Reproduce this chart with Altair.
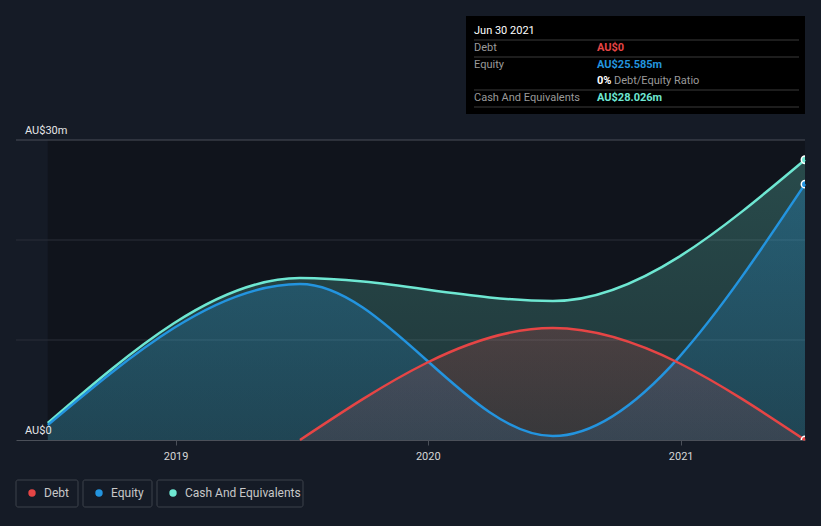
import altair as alt
import pandas as pd

# ---- data ----
dates = ["2018-06-30", "2019-06-30", "2020-06-30", "2021-06-30"]
debt = [None, 0.0, 11.2, 0.0]
equity = [1.5, 15.6, 0.4, 25.585]
cash = [1.7, 16.2, 13.9, 28.026]

series_names = ["Debt", "Equity", "Cash And Equivalents"]
series_colors = ["#e64545", "#2394df", "#6ee7d2"]
series_rgb = [(230, 69, 69), (35, 148, 223), (110, 231, 210)]
area_alpha = [(0.2, 0.12), (0.28, 0.16), (0.26, 0.16)]
grid_minor = [10, 20]
grid_top = [30]
y_label_values = [0, 30]
y_label_texts = ["AU$0", "AU$30m"]
x_years = [2019, 2020, 2021]
domain_start = "2018-05-15"

rows = []
for name, vals in zip(series_names, [debt, equity, cash]):
    for j, (d, v) in enumerate(zip(dates, vals)):
        if v is not None:
            rows.append({"date": d, "series": name, "value": v,
                         "last": 1 if j == len(dates) - 1 else 0})
df = pd.DataFrame(rows)

BG = "#151b26"
PLOT_BG = "#10141c"
W, H = 789, 300

x_scale = alt.Scale(type="utc", domain=[domain_start, dates[-1]])
y_scale = alt.Scale(domain=[0, 30], nice=False)

x_axis = alt.Axis(
    values=[alt.DateTime(year=y, month=1, date=1, utc=True) for y in x_years],
    format="%Y", formatType="utc", title=None, grid=False,
    labelColor="#d6d6d6", labelFontSize=11, labelPadding=5,
    tickColor="#4b5059", tickSize=5, domainColor="#4b5059", domainWidth=1,
)
y_axis = alt.Axis(title=None, grid=False, labels=False, ticks=False, domain=False)

base = alt.Chart(df)

# darker plot band
band_df = pd.DataFrame({"start": [dates[0]], "end": [dates[-1]], "lo": [0], "hi": [30]})
band = alt.Chart(band_df).mark_rect(color=PLOT_BG).encode(
    x=alt.X("start:T", scale=x_scale, axis=x_axis),
    x2="end:T",
    y=alt.Y("lo:Q", scale=y_scale, axis=y_axis),
    y2="hi:Q",
)

layers = [band]

# gridlines through the y scale
for vals, col in [(grid_minor, "#2a2f38"), (grid_top, "#4a4f58")]:
    layers.append(
        alt.Chart(pd.DataFrame({"g": vals})).mark_rule(color=col, strokeWidth=1).encode(
            y=alt.Y("g:Q", scale=y_scale), x=alt.value(0), x2=alt.value(W)
        )
    )

def grad(rgb, top, bottom):
    r, g, b = rgb
    return alt.Gradient(
        gradient="linear",
        stops=[
            alt.GradientStop(color=f"rgba({r},{g},{b},{top})", offset=0),
            alt.GradientStop(color=f"rgba({r},{g},{b},{bottom})", offset=1),
        ],
        x1=1, x2=1, y1=0, y2=1,
    )

area_order = [2, 1, 0]
for i in area_order:
    layers.append(
        base.transform_filter(alt.datum.series == series_names[i]).mark_area(
            interpolate="monotone", color=grad(series_rgb[i], *area_alpha[i])
        ).encode(
            x=alt.X("date:T", scale=x_scale),
            y=alt.Y("value:Q", scale=y_scale),
        )
    )

for i in area_order:
    layers.append(
        base.transform_filter(alt.datum.series == series_names[i]).mark_line(
            interpolate="monotone", color=series_colors[i], strokeWidth=2.5
        ).encode(
            x=alt.X("date:T", scale=x_scale),
            y=alt.Y("value:Q", scale=y_scale),
        )
    )

for i in area_order:
    layers.append(
        base.transform_filter(
            (alt.datum.series == series_names[i]) & (alt.datum.last == 1)
        ).mark_circle(
            fill=series_colors[i], stroke="#ffffff", strokeWidth=1.5,
            opacity=1, size=55, clip=True
        ).encode(
            x=alt.X("date:T", scale=x_scale),
            y=alt.Y("value:Q", scale=y_scale),
        )
    )

# y labels drawn on top of the areas, placed through the y scale
ylab_df = pd.DataFrame({"v": y_label_values, "t": y_label_texts})
layers.append(
    alt.Chart(ylab_df).mark_text(
        align="left", baseline="bottom", dy=-4, color="#e6e6e6", fontSize=11
    ).encode(
        x=alt.value(9),
        y=alt.Y("v:Q", scale=y_scale),
        text="t:N",
    )
)

# ---- tooltip box (decoration) ----
one = pd.DataFrame({"k": [0]})
ox, oy = 16, 140  # plot origin in page pixels

def px(x):
    return alt.value(x - ox)

def py(y):
    return alt.value(y - oy)

layers.append(alt.Chart(one).mark_rect(color="#000000").encode(
    x=px(466), x2=px(805), y=py(16), y2=py(114)))
for ly in [40, 57, 90, 107]:
    layers.append(alt.Chart(one).mark_rule(color="#3a3a3a", strokeWidth=1).encode(
        x=px(474), x2=px(799), y=py(ly)))

def txt(s, x, y, color, size=11, weight="normal"):
    return alt.Chart(one).mark_text(
        text=s, align="left", baseline="middle", color=color,
        fontSize=size, fontWeight=weight
    ).encode(x=px(x), y=py(y))

layers.append(txt("Jun 30 2021", 474, 31, "#ffffff", 11, "normal"))
layers.append(txt("Debt", 474, 48, "#9a9a9a"))
layers.append(txt("Equity", 474, 65, "#9a9a9a"))
layers.append(txt("Cash And Equivalents", 474, 98, "#9a9a9a"))
layers.append(txt(f"AU${debt[-1]:.0f}", 597, 48, series_colors[0], 11, "bold"))
layers.append(txt(f"AU${equity[-1]:.3f}m", 597, 65, series_colors[1], 11, "bold"))
layers.append(txt("0%", 597, 81, "#ffffff", 11, "bold"))
layers.append(txt("Debt/Equity Ratio", 614, 81, "#9a9a9a"))
layers.append(txt(f"AU${cash[-1]:.3f}m", 597, 98, series_colors[2], 11, "bold"))

# ---- legend boxes (decoration) ----
legend_boxes = [(16, 78), (83, 152), (157, 303)]
for (x0, x1), name, col in zip(legend_boxes, series_names, series_colors):
    layers.append(alt.Chart(one).mark_rect(
        fillOpacity=0, stroke="#3d424b", strokeWidth=1, cornerRadius=2
    ).encode(x=px(x0), x2=px(x1), y=py(480), y2=py(507)))
    layers.append(alt.Chart(one).mark_circle(color=col, opacity=1, size=55).encode(
        x=px(x0 + 16), y=py(493)))
    layers.append(txt(name, x0 + 28, 493, "#c8c8c8", 12))

chart = alt.layer(*layers).properties(
    width=W, height=H,
    padding={"left": 16, "top": 140, "right": 16, "bottom": 86},
    autosize="none",
    background=BG,
).configure(font="Roboto", view=alt.ViewConfig(stroke=None))

chart.save("out.html", embed_options={"renderer": "svg", "actions": False})
